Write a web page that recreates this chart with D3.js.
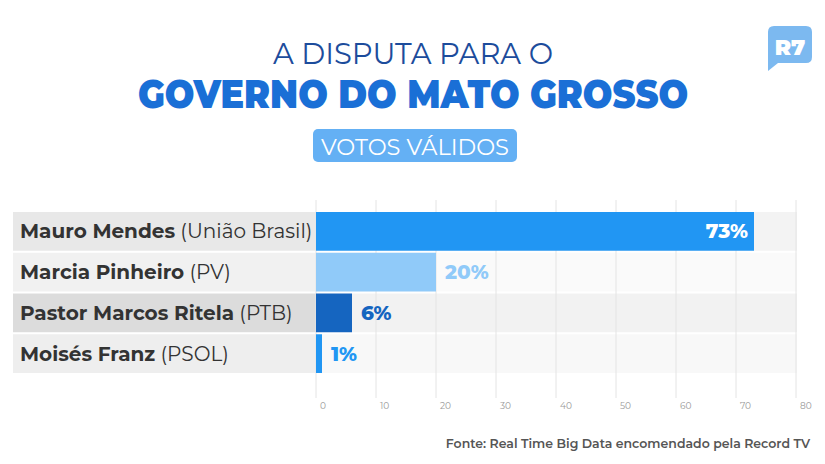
<!DOCTYPE html>
<html>
<head>
<meta charset="utf-8">
<script src="https://cdn.jsdelivr.net/npm/d3@7"></script>
<style>
  body { margin: 0; background: #fff; }
  svg { display: block; font-family: Montserrat, Inter, "Open Sans", sans-serif; }
</style>
</head>
<body>
<script>
(function () {
    'use strict';

    var names = ['Mauro Mendes', 'Marcia Pinheiro', 'Pastor Marcos Ritela', 'Moisés Franz'];
    var parties = ['(União Brasil)', '(PV)', '(PTB)', '(PSOL)'];
    var values = [73, 20, 6, 1];
    var ticks = [0, 10, 20, 30, 40, 50, 60, 70, 80];

    var barColors = ['#2196f3', '#90caf9', '#1565c0', '#2196f3'];
    var valueColors = ['#ffffff', '#90caf9', '#1565c0', '#2196f3'];
    var labelBg = ['#e8e8e8', '#f1f1f1', '#dcdcdc', '#eeeeee'];
    var rowBg = ['#f3f3f3', '#fafafa', '#f2f2f2', '#f8f8f8'];

    var W = 825, H = 464;
    var svg = d3.select('body')
        .append('svg')
        .attr('width', W)
        .attr('height', H);

    var x = d3.scaleLinear().domain([0, 80]).range([316, 796]);
    var y = d3.scaleBand().domain(d3.range(names.length))
        .range([212, 373]).paddingInner(0.05);

    // title
    svg.append('text')
        .attr('x', 413).attr('y', 64)
        .attr('text-anchor', 'middle')
        .attr('font-size', 29)
        .attr('font-weight', 400)
        .attr('fill', '#1c4c9c')
        .text('A DISPUTA PARA O');

    svg.append('text')
        .attr('x', 413).attr('y', 108)
        .attr('text-anchor', 'middle')
        .attr('font-size', 40)
        .attr('font-weight', 900)
        .attr('fill', '#1a6fd6')
        .attr('textLength', 550)
        .attr('lengthAdjust', 'spacingAndGlyphs')
        .text('GOVERNO DO MATO GROSSO');

    svg.append('rect')
        .attr('x', 313).attr('y', 129)
        .attr('width', 204).attr('height', 33)
        .attr('rx', 5)
        .attr('fill', '#64b0f4');
    svg.append('text')
        .attr('x', 415).attr('y', 155)
        .attr('text-anchor', 'middle')
        .attr('font-size', 23)
        .attr('fill', '#ffffff')
        .attr('textLength', 188)
        .attr('lengthAdjust', 'spacingAndGlyphs')
        .text('VOTOS VÁLIDOS');

    // R7 logo
    var logo = svg.append('g');
    logo.append('path')
        .attr('d', 'M774,26 H806 Q812,26 812,32 V57 Q812,63 806,63 H778 L768,71 V32 Q768,26 774,26 Z')
        .attr('fill', '#7cb9f0');
    logo.append('text')
        .attr('x', 790).attr('y', 55)
        .attr('text-anchor', 'middle')
        .attr('font-size', 22)
        .attr('font-weight', 900)
        .attr('fill', '#ffffff')
        .text('R7');

    // row backgrounds
    var rows = svg.selectAll('g.row')
        .data(values)
        .enter()
        .append('g')
        .attr('class', 'row');

    rows.append('rect')
        .attr('x', x(0)).attr('width', x(80) - x(0) + 1)
        .attr('y', function (d, i) { return y(i); })
        .attr('height', y.bandwidth())
        .attr('fill', function (d, i) { return rowBg[i]; });

    rows.append('rect')
        .attr('x', 13).attr('width', x(0) - 13)
        .attr('y', function (d, i) { return y(i); })
        .attr('height', y.bandwidth())
        .attr('fill', function (d, i) { return labelBg[i]; });

    // grid (behind the bars)
    var grid = svg.append('g');
    grid.selectAll('line')
        .data(ticks)
        .enter()
        .append('line')
        .attr('x1', function (d) { return x(d); })
        .attr('x2', function (d) { return x(d); })
        .attr('y1', 200).attr('y2', 398)
        .attr('stroke', '#e4e4e4')
        .attr('stroke-width', 1);

    grid.selectAll('text')
        .data(ticks)
        .enter()
        .append('text')
        .attr('x', function (d) { return x(d) + 4; })
        .attr('y', 409)
        .attr('font-size', 9)
        .attr('fill', '#9a9a9a')
        .text(function (d) { return d; });

    // bars
    var bars = svg.selectAll('g.bar')
        .data(values)
        .enter()
        .append('g')
        .attr('class', 'bar');

    bars.append('rect')
        .attr('x', x(0))
        .attr('y', function (d, i) { return y(i); })
        .attr('width', function (d) { return x(d) - x(0); })
        .attr('height', y.bandwidth())
        .attr('fill', function (d, i) { return barColors[i]; });

    // value labels
    bars.append('text')
        .attr('x', function (d) { return d > 50 ? x(d) - 6 : x(d) + 9; })
        .attr('y', function (d, i) { return y(i) + y.bandwidth() / 2 + 7; })
        .attr('text-anchor', function (d) { return d > 50 ? 'end' : 'start'; })
        .attr('font-size', 20)
        .attr('font-weight', 800)
        .attr('fill', function (d, i) { return valueColors[i]; })
        .text(function (d) { return d + '%'; });

    // category labels
    var lbl = bars.append('text')
        .attr('x', 20)
        .attr('y', function (d, i) { return y(i) + y.bandwidth() / 2 + 7; })
        .attr('font-size', 20)
        .attr('fill', '#333333');
    lbl.append('tspan')
        .attr('font-weight', 700)
        .text(function (d, i) { return names[i]; });
    lbl.append('tspan')
        .attr('font-weight', 400)
        .text(function (d, i) { return ' ' + parties[i]; });

    // source
    svg.append('text')
        .attr('x', 810).attr('y', 448)
        .attr('text-anchor', 'end')
        .attr('font-size', 12.5)
        .attr('font-weight', 600)
        .attr('fill', '#555555')
        .text('Fonte: Real Time Big Data encomendado pela Record TV');
}());
</script>
</body>
</html>
